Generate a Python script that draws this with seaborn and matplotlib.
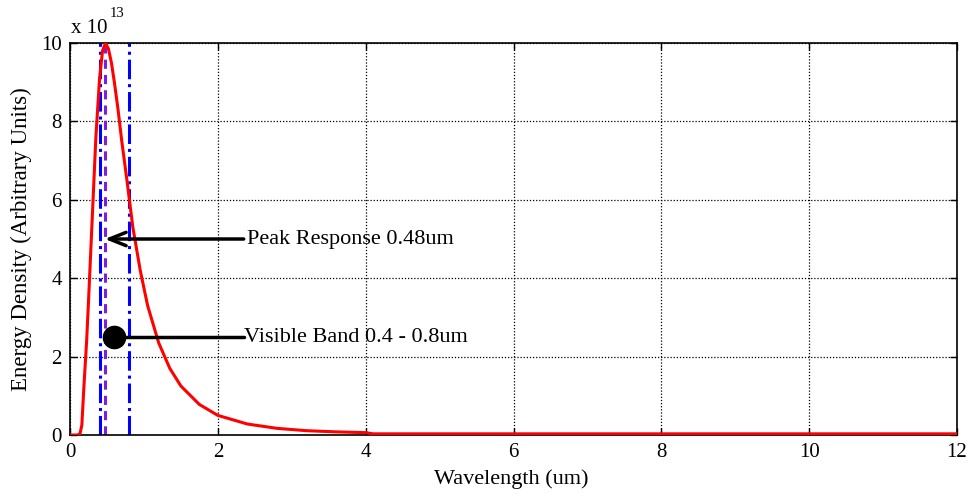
import matplotlib
matplotlib.use("Agg")
import matplotlib.pyplot as plt
import seaborn as sns
import pandas as pd

# Spectral energy density curve (values in units of 1e13)
wavelength_um = [0.0, 0.10, 0.135, 0.16, 0.19, 0.225, 0.25, 0.30, 0.35, 0.40,
                 0.44, 0.48, 0.52, 0.56, 0.60, 0.65, 0.70, 0.77, 0.85, 0.95,
                 1.05, 1.20, 1.35, 1.50, 1.75, 2.00, 2.40, 2.80, 3.20, 3.60,
                 4.00, 4.10, 6.00, 8.00, 10.0, 12.0]
energy_e13 = [0.0, 0.0, 0.03, 0.25, 1.3, 2.4, 3.4, 5.5, 7.6, 9.1,
              9.8, 10.0, 9.85, 9.5, 9.0, 8.3, 7.5, 6.5, 5.3, 4.2,
              3.3, 2.35, 1.7, 1.25, 0.78, 0.5, 0.28, 0.17, 0.11, 0.08,
              0.06, 0.03, 0.03, 0.03, 0.03, 0.03]

visible_band = [0.4, 0.8]
peak_wavelength = 0.48

peak_label = "Peak Response 0.48um"
band_label = "Visible Band 0.4 - 0.8um"
peak_arrow_y = 5.0
band_marker = (0.6, 2.5)
label_x = 2.4

x_ticks = [0, 2, 4, 6, 8, 10, 12]
y_ticks = [0, 2, 4, 6, 8, 10]

sns.set_theme(style="white")
plt.rcParams["font.family"] = ["Liberation Serif", "DejaVu Serif"]

fig = plt.figure(figsize=(9.71, 4.95), dpi=100)
ax = fig.add_axes([0.0721, 0.1212, 0.9135, 0.7919])

df = pd.DataFrame({"Wavelength": wavelength_um, "Energy": energy_e13})

for xv in visible_band:
    ax.axvline(xv, color="#0000ff", linestyle="-.", linewidth=2.2, zorder=2)
ax.axvline(peak_wavelength, color="#7b1fe0", linestyle="--", linewidth=2.2,
           dashes=(3, 2), zorder=2)

sns.lineplot(data=df, x="Wavelength", y="Energy", ax=ax, color="red",
             linewidth=2.2, zorder=3, estimator=None, sort=False)

# Annotations
ax.annotate("", xy=(peak_wavelength - 0.01, peak_arrow_y),
            xytext=(label_x - 0.05, peak_arrow_y),
            arrowprops=dict(arrowstyle="->,head_length=1.0,head_width=0.4",
                            color="black", lw=2.5, shrinkA=0, shrinkB=0),
            zorder=5)
ax.text(label_x, peak_arrow_y, peak_label, fontsize=16, va="center",
        ha="left", color="black", zorder=6)

ax.plot([band_marker[0], label_x - 0.05], [band_marker[1], band_marker[1]],
        color="black", lw=2.5, zorder=5)
ax.plot([band_marker[0]], [band_marker[1]], marker="o", markersize=16,
        color="black", zorder=6)
ax.text(label_x - 0.04, band_marker[1], band_label, fontsize=16, va="center",
        ha="left", color="black", zorder=6)

ax.set_xlim(0, 12)
ax.set_ylim(0, 10)
ax.set_xticks(x_ticks)
ax.set_yticks(y_ticks)
ax.set_xticklabels([str(v) for v in x_ticks])
ax.set_yticklabels([str(v) for v in y_ticks])
ax.tick_params(axis="both", labelsize=15, colors="black", direction="in",
               length=5, width=1, top=True, right=True, bottom=True, left=True,
               pad=6)
ax.grid(True, color="black", linestyle=(0, (1, 1.5)), linewidth=0.9)
ax.set_axisbelow(True)
for side in ax.spines.values():
    side.set_color("black")
    side.set_linewidth(1.2)
    side.set_visible(True)

ax.set_xlabel("Wavelength (um)", fontsize=16, color="black")
ax.set_ylabel("Energy Density (Arbitrary Units)", fontsize=16.5, color="black")
ax.xaxis.set_label_coords(0.498, -0.088)
ax.yaxis.set_label_coords(-0.043, 0.5)

# Exponent multiplier above the y axis
ax.text(0.001, 1.0255, "x 10", transform=ax.transAxes, fontsize=15,
        ha="left", va="baseline", color="black")
ax.text(0.045, 1.066, "13", transform=ax.transAxes, fontsize=10.5,
        ha="left", va="baseline", color="black")

fig.savefig("out.png", dpi=100)
